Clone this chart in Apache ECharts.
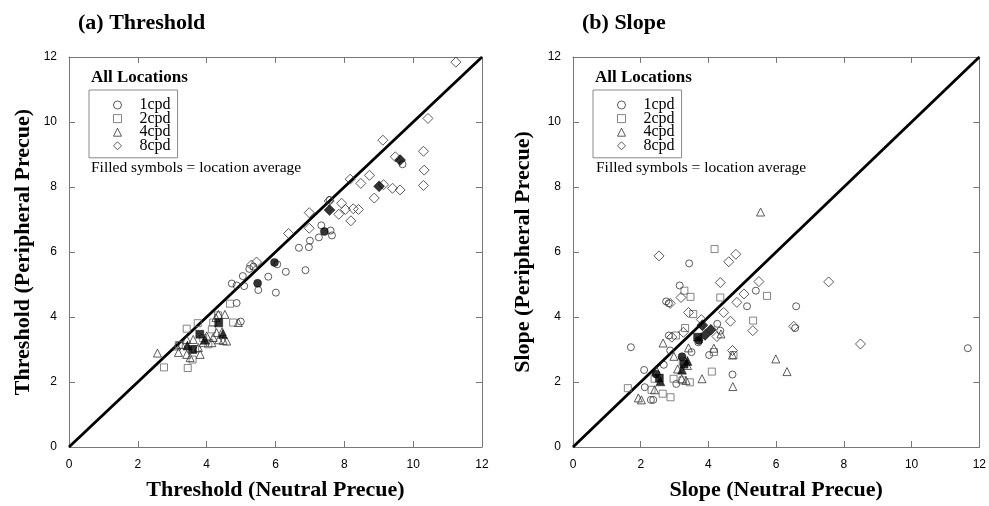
<!DOCTYPE html>
<html><head><meta charset="utf-8">
<script src="https://cdn.jsdelivr.net/npm/echarts@6/dist/echarts.min.js"></script>
<style>html,body{margin:0;padding:0;background:#fff}#c{width:989px;height:506px}</style>
</head><body><div id="c"></div>
<script>
// ---- data ----
const axisTicks = [0, 2, 4, 6, 8, 10, 12];
const diagonal = [[0, 0], [12, 12]];
const legendNames = ['1cpd', '2cpd', '4cpd', '8cpd'];

// (a) Threshold: [neutral, peripheral]
const thr1cpd = [[9.69,8.70],[7.57,7.60],[7.33,6.82],[7.60,6.66],[7.64,6.51],[7.26,6.45],[7.00,6.35],[6.97,6.15],[6.68,6.13],[6.87,5.44],[6.30,5.39],[6.05,5.62],[5.79,5.24],[6.01,4.75],[5.50,4.83],[5.24,5.48],[5.36,5.55],[5.05,5.26],[5.09,4.95],[4.73,5.03],[4.87,4.97],[4.87,4.43],[4.99,3.86]];
const thr2cpd = [[4.68,4.41],[4.77,3.83],[4.19,3.83],[4.15,3.62],[3.74,3.81],[3.42,3.64],[4.05,3.16],[3.66,3.01],[3.59,2.69],[3.45,2.43],[2.76,2.45],[3.19,3.14],[4.33,4.05],[3.90,3.35]];
const thr4cpd = [[2.57,2.89],[4.53,4.08],[4.34,4.08],[4.27,3.98],[4.92,3.83],[4.19,3.37],[4.35,3.30],[4.48,3.28],[4.58,3.26],[3.13,3.11],[3.27,3.16],[3.42,3.31],[3.18,2.91],[3.42,2.85],[3.81,2.85],[3.90,3.21],[4.15,3.21],[3.61,3.31],[4.00,3.42],[4.29,3.52],[3.76,3.06],[3.52,2.75],[4.45,3.55]];
const thr8cpd = [[11.24,11.84],[10.43,10.11],[9.12,9.44],[10.30,9.10],[9.48,8.93],[10.32,8.52],[8.73,8.36],[8.17,8.24],[8.48,8.11],[10.30,8.05],[9.14,8.07],[9.40,7.96],[9.62,7.91],[8.87,7.66],[7.56,7.57],[7.92,7.50],[8.03,7.31],[8.26,7.33],[8.41,7.31],[7.84,7.16],[8.19,6.96],[6.98,7.21],[6.98,6.73],[6.38,6.57],[5.45,5.69],[5.30,5.60]];
const thrAvg1 = [[7.42,6.63],[5.97,5.68],[5.48,5.04]];
const thrAvg2 = [[4.35,3.82],[3.80,3.47],[3.59,3.00]];
const thrAvg4 = [[4.47,3.48],[3.44,3.12],[3.95,3.30]];
const thrAvg8 = [[9.62,8.83],[9.01,8.02],[7.57,7.29]];

// (b) Slope: [neutral, peripheral]
const slp1cpd = [[11.66,3.04],[6.59,4.33],[6.56,3.66],[5.40,4.81],[5.14,4.33],[3.43,5.65],[3.15,4.97],[2.75,4.48],[2.83,4.42],[1.71,3.07],[2.10,2.37],[2.12,1.84],[2.30,1.45],[2.37,1.45],[3.05,1.94],[4.71,2.23],[4.02,2.83],[4.26,3.79],[4.35,3.58],[3.50,2.92],[2.87,2.97],[2.68,2.53],[2.83,3.43],[3.70,3.22]];
const slp2cpd = [[4.18,6.09],[4.35,4.60],[5.73,4.65],[3.47,4.62],[3.29,4.81],[3.55,4.09],[5.32,3.89],[3.31,3.66],[3.04,3.43],[4.16,2.92],[4.74,2.83],[4.10,2.32],[3.45,1.99],[2.97,2.10],[3.23,2.05],[2.32,1.76],[2.65,1.64],[2.88,1.53],[1.62,1.81],[2.41,2.10],[3.24,2.63]];
const slp4cpd = [[5.54,7.23],[5.99,2.71],[6.32,2.32],[4.72,1.86],[3.81,2.10],[2.66,3.20],[2.98,2.79],[3.09,2.40],[3.21,2.10],[3.34,2.05],[3.38,2.51],[2.47,2.35],[2.41,1.76],[1.93,1.51],[2.02,1.45],[4.16,3.04],[4.71,2.83],[4.37,3.48],[3.41,3.05]];
const slp8cpd = [[2.54,5.88],[4.81,5.93],[4.60,5.70],[4.35,5.06],[5.49,5.09],[7.55,5.08],[5.05,4.71],[3.19,4.60],[2.87,4.42],[4.84,4.45],[4.45,4.14],[3.41,4.14],[3.79,3.92],[4.65,3.87],[5.31,3.58],[6.52,3.71],[8.49,3.17],[3.26,3.53],[2.92,3.38],[4.25,3.40],[4.71,2.97]];
const slpAvg1 = [[3.72,3.28],[3.22,2.78],[2.45,2.25]];
const slpAvg2 = [[3.68,3.38],[3.28,2.55],[2.55,2.12]];
const slpAvg4 = [[3.38,2.65],[3.22,2.38],[2.58,2.02]];
const slpAvg8 = [[3.82,3.75],[4.07,3.61],[3.90,3.45]];

// ---- chart ----
const SERIF = 'Liberation Serif';
const SANS = 'Liberation Sans';
const AX = '#777';
const symbolOf = { '1cpd': ['circle', 7], '2cpd': ['rect', 7], '4cpd': ['triangle', 8], '8cpd': ['diamond', 10] };
const strokeOf = { '1cpd': '#333', '2cpd': '#666', '4cpd': '#333', '8cpd': '#333' };

function hollow(name, data, g) {
  return { type: 'scatter', name, data, xAxisIndex: g * 2, yAxisIndex: g * 2,
    symbol: symbolOf[name][0], symbolSize: symbolOf[name][1],
    itemStyle: { color: 'rgba(255,255,255,0)', borderColor: strokeOf[name], borderWidth: 1 },
    emphasis: { disabled: true }, z: 3 };
}
function filled(name, data, g) {
  return { type: 'scatter', name: name + ' average', data, xAxisIndex: g * 2, yAxisIndex: g * 2,
    symbol: symbolOf[name][0], symbolSize: symbolOf[name][1] + 1,
    itemStyle: { color: '#000', borderColor: '#000', borderWidth: 0.5 },
    emphasis: { disabled: true }, z: 4 };
}
function diag(g) {
  return { type: 'line', data: diagonal, xAxisIndex: g * 2, yAxisIndex: g * 2, showSymbol: false,
    lineStyle: { color: '#000', width: 2.8 }, silent: true, z: 2 };
}
const tickMin = axisTicks[0], tickMax = axisTicks[axisTicks.length - 1], tickStep = axisTicks[1] - axisTicks[0];
const nameStyle = { fontFamily: SERIF, fontWeight: 'bold', fontSize: 22, color: '#000' };
function xAx(g, pos, name) {
  return { type: 'value', gridIndex: g, position: pos, min: tickMin, max: tickMax, interval: tickStep,
    axisLine: { show: true, onZero: false, lineStyle: { color: AX, width: 1 } },
    axisTick: { show: true, inside: true, length: 6, lineStyle: { color: AX } },
    axisLabel: { show: pos === 'bottom', margin: 12, color: '#000', fontFamily: SANS, fontSize: 12 },
    splitLine: { show: false },
    name: pos === 'bottom' ? name : '', nameLocation: 'middle', nameGap: 32, nameTextStyle: nameStyle };
}
function yAx(g, pos, name, gap) {
  return { type: 'value', gridIndex: g, position: pos, min: tickMin, max: tickMax, interval: tickStep,
    axisLine: { show: true, onZero: false, lineStyle: { color: AX, width: 1 } },
    axisTick: { show: true, inside: true, length: 6, lineStyle: { color: AX } },
    axisLabel: { show: pos === 'left', margin: 12, color: '#000', fontFamily: SANS, fontSize: 12 },
    splitLine: { show: false },
    name: pos === 'left' ? name : '', nameLocation: 'middle', nameGap: gap, nameTextStyle: nameStyle };
}
function legendAt(left) {
  return { data: legendNames, orient: 'vertical', left, top: 90, padding: [7, 7, 4, 24],
    itemWidth: 8, itemHeight: 8, itemGap: -2.4, selectedMode: false, symbolKeepAspect: true,
    borderColor: '#888', borderWidth: 1,
    itemStyle: { borderWidth: 1 },
    textStyle: { fontFamily: SERIF, fontSize: 16, color: '#000', padding: [0, 0, 0, 13] } };
}
function txt(text, left, top, size, bold) {
  return { text, left, top, padding: 0,
    textStyle: { fontFamily: SERIF, fontSize: size, fontWeight: bold ? 'bold' : 'normal', color: '#000' } };
}

const chart = echarts.init(document.getElementById('c'), null, { renderer: 'canvas' });
chart.setOption({
  animation: false,
  backgroundColor: '#fff',
  title: [
    txt('(a) Threshold', 78, 12, 22, true),
    txt('(b) Slope', 582, 12, 22, true),
    txt('All Locations', 91, 69, 17, true),
    txt('All Locations', 595, 69, 17, true),
    txt('Filled symbols = location average', 91, 160, 15.5, false),
    txt('Filled symbols = location average', 596, 160, 15.5, false)
  ],
  legend: [legendAt(89), legendAt(593)],
  grid: [
    { left: 69, top: 57, width: 413, height: 391 },
    { left: 573, top: 57, width: 413, height: 391 }
  ],
  xAxis: [
    xAx(0, 'bottom', 'Threshold (Neutral Precue)'), xAx(0, 'top', ''),
    xAx(1, 'bottom', 'Slope (Neutral Precue)'), xAx(1, 'top', '')
  ],
  yAxis: [
    yAx(0, 'left', 'Threshold (Peripheral Precue)', 35), yAx(0, 'right', '', 0),
    yAx(1, 'left', 'Slope (Peripheral Precue)', 39), yAx(1, 'right', '', 0)
  ],
  series: [
    diag(0),
    hollow('1cpd', thr1cpd, 0), hollow('2cpd', thr2cpd, 0), hollow('4cpd', thr4cpd, 0), hollow('8cpd', thr8cpd, 0),
    filled('1cpd', thrAvg1, 0), filled('2cpd', thrAvg2, 0), filled('4cpd', thrAvg4, 0), filled('8cpd', thrAvg8, 0),
    diag(1),
    hollow('1cpd', slp1cpd, 1), hollow('2cpd', slp2cpd, 1), hollow('4cpd', slp4cpd, 1), hollow('8cpd', slp8cpd, 1),
    filled('1cpd', slpAvg1, 1), filled('2cpd', slpAvg2, 1), filled('4cpd', slpAvg4, 1), filled('8cpd', slpAvg8, 1)
  ]
});
</script></body></html>
